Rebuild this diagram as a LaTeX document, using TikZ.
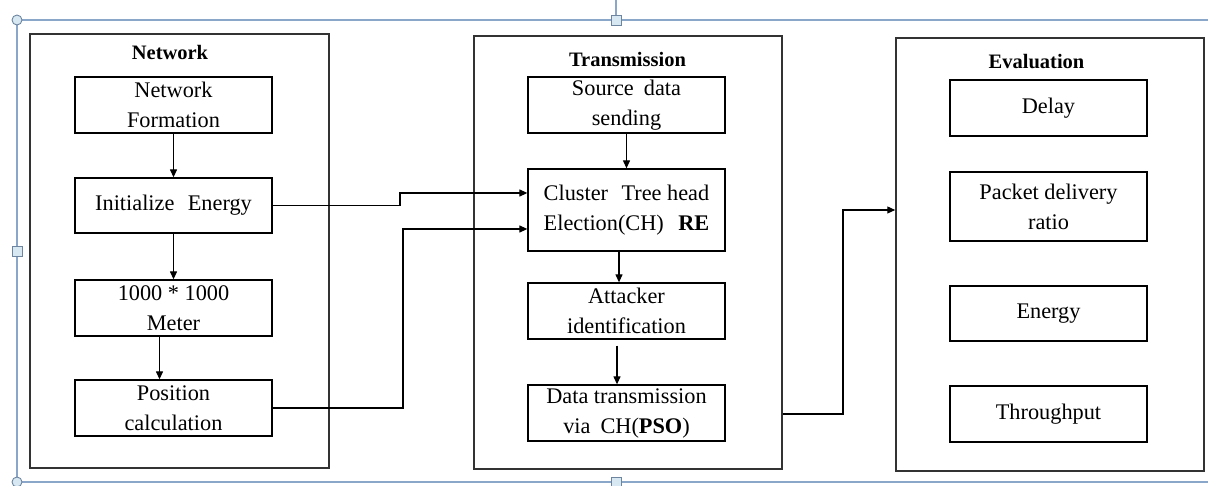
\documentclass[tikz,border=0pt]{standalone}
\usepackage{fontspec}
\newfontfamily\tnr{Liberation Serif}
\usetikzlibrary{arrows.meta}
\definecolor{selblue}{HTML}{8AA6C8}
\definecolor{handlefill}{HTML}{D8E8F2}
\definecolor{outerline}{HTML}{333333}
\begin{document}
\begin{tikzpicture}[x=1pt,y=-1pt,
  inbox/.style={draw=black,line width=1.3pt,minimum width=197pt,inner sep=0pt,align=center,
    font=\tnr\fontsize{22.3}{30}\selectfont},
  outbox/.style={draw=outerline,line width=1.5pt,inner sep=0pt},
  ttl/.style={font=\tnr\fontsize{20.5}{24}\selectfont\bfseries,inner sep=0pt},
  arr/.style={line width=1.2pt,-{Triangle[length=8pt,width=7pt]}},
  sel/.style={draw=selblue,line width=1.3pt},
  handle/.style={draw=selblue!80!black,fill=handlefill,line width=0.9pt,inner sep=0pt,minimum size=10pt}]
\useasboundingbox (0,0) rectangle (1208,486);
% selection frame
\draw[sel] (1208,20) -- (17,20) -- (17,482) -- (1208,482);
\draw[sel] (616,0) -- (616,20);
\node[handle,circle] (h1) at (17,20) {};
\node[handle,circle] (h2) at (17,482) {};
\node[handle,rectangle] (h3) at (616,20) {};
\node[handle,rectangle] (h4) at (17,251) {};
\node[handle,rectangle] (h5) at (616,482) {};
% outer boxes
\node[outbox,minimum width=299pt,minimum height=434pt] (netbox) at (179.5,251) {};
\node[outbox,minimum width=308pt,minimum height=433pt] (trbox) at (628,252.5) {};
\node[outbox,minimum width=308pt,minimum height=433pt] (evbox) at (1050,254.5) {};
% titles
\node[ttl] (t1) at (170,52) {Network};
\node[ttl] (t2) at (627.5,59) {Transmission};
\node[ttl] (t3) at (1036.5,62) {Evaluation};
% network column
\node[inbox,minimum height=56pt] (nf) at (173.5,105) {Network\\Formation};
\node[inbox,minimum height=55pt] (ie) at (173.5,205.5) {Initialize\hspace{0.6em}Energy};
\node[inbox,minimum height=56pt] (mm) at (173.5,308) {1000 * 1000\\Meter};
\node[inbox,minimum height=56pt] (pc) at (173.5,408) {Position\\calculation};
% transmission column
\node[inbox,minimum height=56pt] (sd) at (626.5,105) {Source\hspace{0.45em}data\\sending};
\node[inbox,minimum height=82pt] (ch) at (626.5,210) {Cluster\hspace{0.6em}Tree head\\Election(CH)\hspace{0.65em}\textbf{RE}};
\node[inbox,minimum height=56pt] (ai) at (626.5,311) {Attacker\\identification};
\node[inbox,minimum height=56pt] (dt) at (626.5,413) {Data transmission\\via\hspace{0.45em}CH(\textbf{PSO})};
% evaluation column
\node[inbox,minimum height=56pt] (de) at (1048.5,108) {Delay};
\node[inbox,minimum height=69pt] (pd) at (1048.5,206.5) {Packet delivery\\ratio};
\node[inbox,minimum height=55pt] (en) at (1048.5,313.5) {Energy};
\node[inbox,minimum height=56pt] (tp) at (1048.5,414) {Throughput};
% vertical arrows
\draw[arr] (nf) -- (ie);
\draw[arr] (ie) -- (mm);
\draw[arr] ([xshift=-14pt]mm.south) -- ([xshift=-14pt]pc.north);
\draw[arr] (sd) -- (ch);
\draw[arr] ([xshift=-7.5pt]ch.south) -- ([xshift=-7.5pt]ai.north);
\draw[arr] ([xshift=-9.5pt,yshift=-6pt]ai.south) -- ([xshift=-9.5pt]dt.north);
% connectors
\coordinate (k1) at (400,0);
\coordinate (k2) at (403,0);
\coordinate (k3) at (843,0);
\draw[arr] (ie.east) -- (ie.east -| k1) |- ([yshift=17pt]ch.west);
\draw[arr] (pc.east) -- (pc.east -| k2) |- ([yshift=-19pt]ch.west);
\draw[arr] ([yshift=-161.5pt]trbox.east) -- ([yshift=-161.5pt]trbox.east -| k3) |- ([yshift=44.5pt]evbox.west);
\end{tikzpicture}
\end{document}
